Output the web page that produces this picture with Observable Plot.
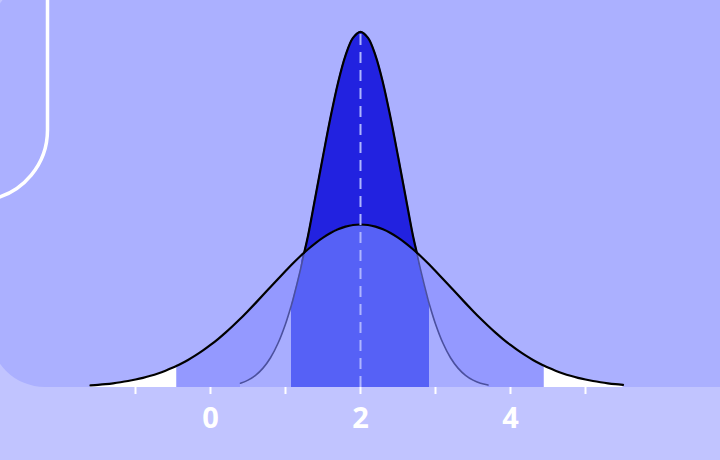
<!DOCTYPE html>
<html>
<head>
<meta charset="utf-8">
<script src="https://cdn.jsdelivr.net/npm/d3@7"></script>
<script src="https://cdn.jsdelivr.net/npm/@observablehq/plot@0.6"></script>
<style>
  html, body { margin: 0; padding: 0; background: #c1c4ff; }
  #wrap { position: relative; width: 720px; height: 460px; overflow: hidden; background: #c1c4ff; }
  #decor, #chart svg { position: absolute; left: 0; top: 0; }
</style>
</head>
<body>
<div id="wrap">
  <svg id="decor" width="720" height="460">
    <rect x="-10" y="-20" width="800" height="407" rx="55" ry="55" fill="#abb0ff"></rect>
    <path d="M47.5 -5 L47.5 130 A71 71 0 0 1 -10 199.6" fill="none" stroke="white" stroke-width="3.5"></path>
  </svg>
  <div id="chart"></div>
</div>
<script>
// x positions (shared grid)
const xs = [-1.6,-1.5,-1.4,-1.3,-1.2,-1.1,-1.0,-0.9,-0.8,-0.7,-0.6,-0.5,-0.45,-0.4,-0.3,-0.2,-0.1,
  0.0,0.1,0.2,0.3,0.4,0.5,0.6,0.7,0.8,0.9,1.0,1.08,1.1,1.2,1.25,1.3,1.4,1.5,1.6,1.7,1.8,1.9,
  2.0,2.1,2.2,2.3,2.4,2.5,2.6,2.7,2.75,2.8,2.9,2.92,3.0,3.1,3.2,3.3,3.4,3.5,3.6,3.7,3.8,3.9,
  4.0,4.1,4.2,4.3,4.4,4.45,4.5,4.6,4.7,4.8,4.9,5.0,5.1,5.2,5.3,5.4,5.5];
// wide distribution heights
const wideY = [0.0042,0.0054,0.0068,0.0085,0.0106,0.0131,0.0161,0.0196,0.0237,0.0285,0.0341,0.0404,0.0439,0.0477,0.0558,0.0649,0.0750,
  0.0861,0.0981,0.1111,0.1250,0.1396,0.1550,0.1708,0.1870,0.2034,0.2198,0.2358,0.2483,0.2514,0.2662,0.2732,0.2799,0.2924,0.3034,0.3127,0.3202,0.3256,0.3289,
  0.3300,0.3289,0.3256,0.3202,0.3127,0.3034,0.2924,0.2799,0.2732,0.2662,0.2514,0.2483,0.2358,0.2198,0.2034,0.1870,0.1708,0.1550,0.1396,0.1250,0.1111,0.0981,
  0.0861,0.0750,0.0649,0.0558,0.0477,0.0439,0.0404,0.0341,0.0285,0.0237,0.0196,0.0161,0.0131,0.0106,0.0085,0.0068,0.0054];
// narrow distribution heights (null where not drawn)
const narrowY = [null,null,null,null,null,null,null,null,null,null,null,null,null,null,null,null,null,
  null,null,null,null,0.0087,0.0149,0.0246,0.0392,0.0602,0.0895,0.1286,0.1675,0.1783,0.2390,0.2732,0.3066,0.3872,0.4681,0.5465,0.6166,0.6720,0.7077,
  0.7200,0.7077,0.6720,0.6166,0.5465,0.4681,0.3872,0.3066,0.2732,0.2390,0.1783,0.1675,0.1286,0.0895,0.0602,0.0392,0.0246,0.0149,0.0087,0.0050,null,null,
  null,null,null,null,null,null,null,null,null,null,null,null,null,null,null,null,null];
// shaded ranges
const wideBand = [-0.45, 4.45];
const innerBand = [1.08, 2.92];
const peakX = [2];
const peakY = [0.72];
// axis ticks
const tickValues = [-1, 0, 1, 2, 3, 4, 5];
const labelValues = [0, 2, 4];
const labelTexts = ["0", "2", "4"];

const rows = xs.map((x, i) => ({x, w: wideY[i], n: narrowY[i]}));
const nar = rows.filter(d => d.n != null).map(d => ({...d, lo: Math.min(d.n, d.w)}));
const wideMid = rows.filter(d => d.x >= wideBand[0] - 1e-9 && d.x <= wideBand[1] + 1e-9);
const innerMid = nar.filter(d => d.x >= innerBand[0] - 1e-9 && d.x <= innerBand[1] + 1e-9);
const narTop = nar.filter(d => d.n >= d.w - 1e-9);
const labels = labelValues.map((v, i) => ({v, t: labelTexts[i]}));
const curve = "catmull-rom";

const chart = Plot.plot({
  width: 720,
  height: 460,
  marginTop: 0, marginLeft: 0, marginRight: 0, marginBottom: 73,
  x: {domain: [-2.8, 6.8], axis: null},
  y: {domain: [0, 387 / 494], axis: null},
  style: {background: "transparent", overflow: "visible"},
  marks: [
    Plot.areaY(rows, {x: "x", y: "w", fill: "white", curve}),
    Plot.areaY(wideMid, {x: "x", y: "w", fill: "#9499ff", curve}),
    Plot.areaY(nar, {x: "x", y: "lo", fill: "#a8adff", curve}),
    Plot.areaY(innerMid, {x: "x", y: "lo", fill: "#5661f6", curve}),
    Plot.areaY(nar, {x: "x", y1: "lo", y2: "n", fill: "#2222e0", curve}),
    Plot.line(nar, {x: "x", y: "n", stroke: "#4b509e", strokeWidth: 1.6, curve}),
    Plot.line(narTop, {x: "x", y: "n", stroke: "black", strokeWidth: 2.2, curve}),
    Plot.line(rows, {x: "x", y: "w", stroke: "black", strokeWidth: 2.2, curve}),
    Plot.ruleX(peakX, {x: d => d, y1: 0, y2: peakY[0], stroke: "#aeb5ff", strokeWidth: 2, strokeDasharray: "11,7"}),
    Plot.axisX(tickValues, {
      label: null, tickSize: 7, strokeWidth: 2,
      tickFormat: () => "", color: "white"
    }),
    Plot.text(labels, {
      x: "v", text: "t", frameAnchor: "bottom", dy: 40,
      fill: "white", fontSize: 29, fontWeight: "bold", fontFamily: "Open Sans"
    })
  ]
});
document.getElementById("chart").appendChild(chart);
</script>
</body>
</html>
